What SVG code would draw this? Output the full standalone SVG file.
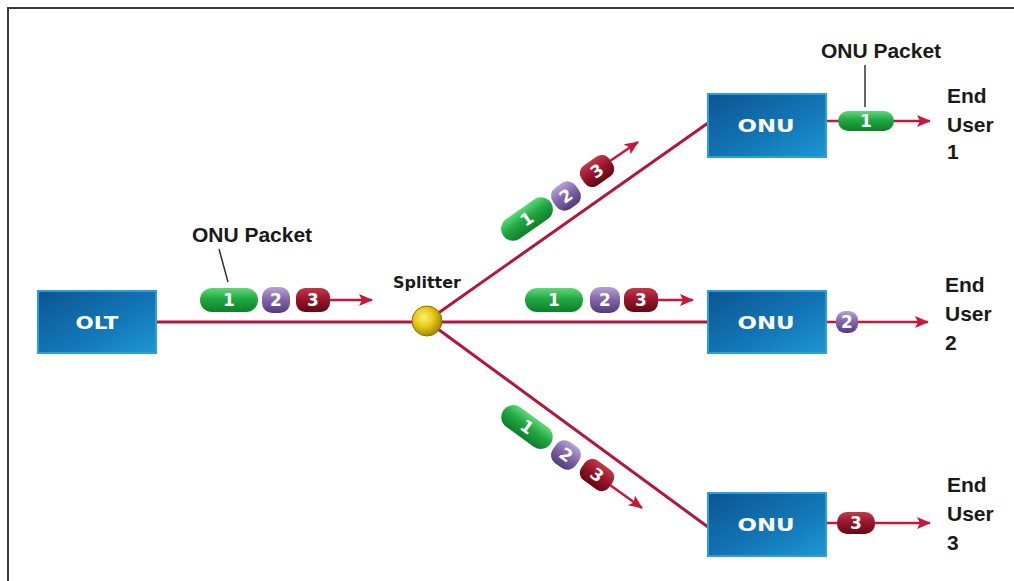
<svg xmlns="http://www.w3.org/2000/svg" width="1014" height="581" viewBox="0 0 1014 581">
<defs>
<linearGradient id="boxG" x1="0" y1="0" x2="1" y2="1">
<stop offset="0" stop-color="#0c5590"/>
<stop offset="0.6" stop-color="#1378b8"/>
<stop offset="1" stop-color="#1e97d4"/>
</linearGradient>
<linearGradient id="grnG" x1="0" y1="0" x2="0" y2="1">
<stop offset="0" stop-color="#5fd878"/>
<stop offset="0.45" stop-color="#22a845"/>
<stop offset="1" stop-color="#0c7f2a"/>
</linearGradient>
<linearGradient id="purG" x1="0" y1="0" x2="0" y2="1">
<stop offset="0" stop-color="#b7a2d6"/>
<stop offset="0.5" stop-color="#8064a6"/>
<stop offset="1" stop-color="#553a7c"/>
</linearGradient>
<linearGradient id="redG" x1="0" y1="0" x2="0" y2="1">
<stop offset="0" stop-color="#c2384a"/>
<stop offset="0.5" stop-color="#96142a"/>
<stop offset="1" stop-color="#650914"/>
</linearGradient>
<radialGradient id="splG" cx="0.4" cy="0.38" r="0.65">
<stop offset="0" stop-color="#fff07a"/>
<stop offset="0.5" stop-color="#e6c813"/>
<stop offset="1" stop-color="#9c8206"/>
</radialGradient>
<marker id="ah" viewBox="0 0 14 12" refX="13" refY="6" markerWidth="14" markerHeight="12" markerUnits="userSpaceOnUse" orient="auto">
<path d="M0,0 L14,6 L0,12 L3,6 Z" fill="#c8173d"/>
</marker>
<style>
.box{fill:url(#boxG);stroke:#2b9fdc;stroke-width:2}
.btxt{font-family:"DejaVu Sans",sans-serif;font-weight:bold;font-size:18px;fill:#ffffff;text-anchor:middle}
.fib{stroke:#b3163a;stroke-width:3;fill:none}
.arr{stroke:#c8173d;stroke-width:2.5;fill:none;marker-end:url(#ah)}
.g{fill:url(#grnG)}
.p{fill:url(#purG)}
.r{fill:url(#redG)}
.num{font-family:"DejaVu Sans",sans-serif;font-weight:bold;font-size:17px;fill:#ffffff;text-anchor:middle}
.lbl{font-family:"Liberation Sans",Arial,sans-serif;font-weight:bold;font-size:21px;fill:#1a1a1a}
.lead{stroke:#333;stroke-width:1.5}
</style>
</defs>
<rect width="1014" height="581" fill="#ffffff"/>
<path d="M8,581 L8,8 L1014,8" fill="none" stroke="#3a3a3a" stroke-width="2"/>

<g id="connectors">
<line class="fib" x1="156" y1="322" x2="708" y2="322"/>
<line class="fib" x1="427" y1="321" x2="708" y2="123"/>
<line class="fib" x1="427" y1="321" x2="708" y2="527"/>
<line class="arr" x1="330" y1="300" x2="372" y2="300"/>
<line class="arr" x1="658" y1="300" x2="693" y2="300"/>
<line class="arr" x1="610" y1="161" x2="638" y2="142"/>
<line class="arr" x1="610" y1="485" x2="642" y2="508"/>
<line class="arr" x1="827" y1="121" x2="930" y2="121"/>
<line class="arr" x1="827" y1="322" x2="928" y2="322"/>
<line class="arr" x1="827" y1="523" x2="930" y2="523"/>
<line class="lead" x1="219" y1="249" x2="228" y2="282"/>
<line class="lead" x1="865" y1="65" x2="865" y2="107"/>
</g>

<g id="olt">
<rect class="box" x="38" y="291" width="118" height="62"/>
<text class="btxt" x="97" y="329" textLength="43" lengthAdjust="spacingAndGlyphs">OLT</text>
</g>
<g id="onu1">
<rect class="box" x="708" y="94" width="118" height="63"/>
<text class="btxt" x="766" y="132" textLength="57" lengthAdjust="spacingAndGlyphs">ONU</text>
</g>
<g id="onu2">
<rect class="box" x="708" y="291" width="118" height="62"/>
<text class="btxt" x="766" y="329" textLength="57" lengthAdjust="spacingAndGlyphs">ONU</text>
</g>
<g id="onu3">
<rect class="box" x="708" y="493" width="118" height="63"/>
<text class="btxt" x="766" y="531" textLength="57" lengthAdjust="spacingAndGlyphs">ONU</text>
</g>

<g id="splitter">
<circle cx="427" cy="321" r="15" fill="url(#splG)" stroke="#8a7205" stroke-width="1"/>
<text x="427" y="288" font-family="DejaVu Sans,sans-serif" font-weight="bold" font-size="15" fill="#1a1a1a" text-anchor="middle" textLength="68" lengthAdjust="spacingAndGlyphs">Splitter</text>
</g>

<g id="packets-olt">
<g transform="translate(229,300)"><rect class="g" x="-29" y="-12" width="58" height="24" rx="12"/><text class="num" y="6">1</text></g>
<g transform="translate(276,300)"><rect class="p" x="-14" y="-13" width="28" height="26" rx="10"/><text class="num" y="6">2</text></g>
<g transform="translate(313,300)"><rect class="r" x="-17" y="-12" width="34" height="24" rx="9"/><text class="num" y="6">3</text></g>
</g>

<g id="packets-mid">
<g transform="translate(554,300)"><rect class="g" x="-29" y="-12" width="58" height="24" rx="12"/><text class="num" y="6">1</text></g>
<g transform="translate(605,300)"><rect class="p" x="-15" y="-13" width="30" height="26" rx="10"/><text class="num" y="6">2</text></g>
<g transform="translate(641,300)"><rect class="r" x="-17" y="-12" width="34" height="24" rx="9"/><text class="num" y="6">3</text></g>
</g>

<g id="packets-up">
<g transform="translate(527,219) rotate(-35)"><rect class="g" x="-29" y="-12" width="58" height="24" rx="12"/><text class="num" y="6">1</text></g>
<g transform="translate(566,196) rotate(-35)"><rect class="p" x="-14" y="-13" width="28" height="26" rx="10"/><text class="num" y="6">2</text></g>
<g transform="translate(597,171) rotate(-35)"><rect class="r" x="-17" y="-12" width="34" height="24" rx="9"/><text class="num" y="6">3</text></g>
</g>

<g id="packets-down">
<g transform="translate(527,427) rotate(36)"><rect class="g" x="-29" y="-12" width="58" height="24" rx="12"/><text class="num" y="6">1</text></g>
<g transform="translate(566,455) rotate(36)"><rect class="p" x="-14" y="-13" width="28" height="26" rx="10"/><text class="num" y="6">2</text></g>
<g transform="translate(597,475) rotate(36)"><rect class="r" x="-17" y="-12" width="34" height="24" rx="9"/><text class="num" y="6">3</text></g>
</g>

<g id="packets-out">
<g transform="translate(866,121)"><rect class="g" x="-28" y="-10" width="56" height="20" rx="10"/><text class="num" y="6">1</text></g>
<g transform="translate(847,322)"><rect class="p" x="-11" y="-11" width="22" height="22" rx="9"/><text class="num" y="6">2</text></g>
<g transform="translate(856,523)"><rect class="r" x="-19" y="-11" width="38" height="22" rx="10"/><text class="num" y="6">3</text></g>
</g>

<g id="labels">
<text class="lbl" x="252" y="242" text-anchor="middle">ONU Packet</text>
<text class="lbl" x="881" y="58" text-anchor="middle">ONU Packet</text>
<text class="lbl" x="947" y="103">End</text>
<text class="lbl" x="947" y="132">User</text>
<text class="lbl" x="947" y="159">1</text>
<text class="lbl" x="945" y="292">End</text>
<text class="lbl" x="945" y="321">User</text>
<text class="lbl" x="945" y="350">2</text>
<text class="lbl" x="947" y="492">End</text>
<text class="lbl" x="947" y="521">User</text>
<text class="lbl" x="947" y="550">3</text>
</g>
</svg>
